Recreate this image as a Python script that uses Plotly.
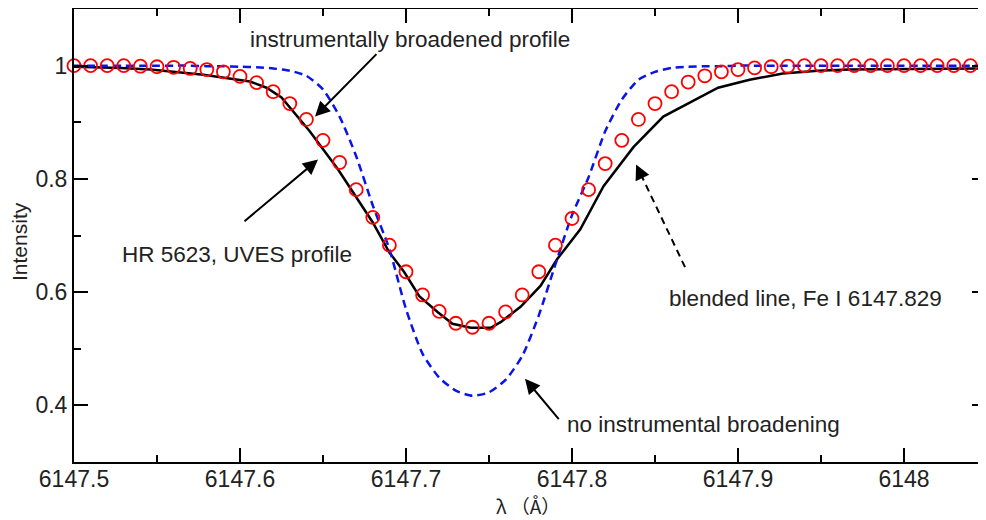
import plotly.graph_objects as go

# ---------------- data ----------------
# model wavelength grid (Angstrom)
wl_model = [6147.50, 6147.51, 6147.52, 6147.53, 6147.54, 6147.55, 6147.56, 6147.57,
            6147.58, 6147.59, 6147.60, 6147.61, 6147.62, 6147.63, 6147.64, 6147.65,
            6147.66, 6147.67, 6147.68, 6147.69, 6147.70, 6147.71, 6147.72, 6147.73,
            6147.74, 6147.75, 6147.76, 6147.77, 6147.78, 6147.79, 6147.80, 6147.81,
            6147.82, 6147.83, 6147.84, 6147.85, 6147.86, 6147.87, 6147.88, 6147.89,
            6147.90, 6147.91, 6147.92, 6147.93, 6147.94, 6147.95, 6147.96, 6147.97,
            6147.98, 6147.99, 6148.00, 6148.01, 6148.02, 6148.03, 6148.04, 6148.05]

# instrumentally broadened profile (red circles)
broadened = [1.000, 1.000, 1.000, 1.000, 0.999, 0.998, 0.997, 0.995,
             0.993, 0.989, 0.981, 0.970, 0.954, 0.933, 0.905, 0.868,
             0.829, 0.781, 0.732, 0.683, 0.636, 0.595, 0.566, 0.545,
             0.538, 0.545, 0.565, 0.595, 0.636, 0.683, 0.730, 0.781,
             0.827, 0.868, 0.905, 0.933, 0.954, 0.971, 0.982, 0.989,
             0.993, 0.996, 0.998, 0.999, 1.000, 1.000, 1.000, 1.000,
             1.000, 1.000, 1.000, 1.000, 1.000, 1.000, 1.000, 1.000]

# no instrumental broadening (blue dashed)
unbroadened = [1.000, 1.000, 1.000, 1.000, 1.000, 1.000, 1.000, 1.000,
               0.999, 0.999, 0.998, 0.997, 0.995, 0.991, 0.982, 0.958,
               0.910, 0.840, 0.753, 0.676, 0.570, 0.491, 0.449, 0.426,
               0.417, 0.423, 0.445, 0.487, 0.559, 0.649, 0.736, 0.803,
               0.884, 0.940, 0.975, 0.989, 0.996, 0.998, 0.999, 0.999,
               1.000, 1.000, 1.000, 1.000, 1.000, 1.000, 1.000, 1.000,
               1.000, 1.000, 1.000, 1.000, 1.000, 1.000, 1.000, 1.000]

# observed HR 5623 UVES profile (black solid)
wl_obs = [6147.500, 6147.528, 6147.546, 6147.578, 6147.606, 6147.616, 6147.625,
          6147.642, 6147.659, 6147.670, 6147.680, 6147.690, 6147.699, 6147.708,
          6147.719, 6147.728, 6147.739, 6147.751, 6147.757, 6147.769, 6147.781,
          6147.791, 6147.805, 6147.819, 6147.837, 6147.855, 6147.888, 6147.907,
          6147.927, 6147.948, 6147.967, 6148.049]
obs = [0.998, 0.996, 0.993, 0.984, 0.972, 0.961, 0.944,
       0.884, 0.817, 0.769, 0.723, 0.670, 0.635, 0.593,
       0.565, 0.544, 0.537, 0.537, 0.547, 0.574, 0.611,
       0.658, 0.711, 0.787, 0.856, 0.910, 0.961, 0.975,
       0.986, 0.991, 0.993, 0.995]

x_tickvals = [6147.5, 6147.6, 6147.7, 6147.8, 6147.9, 6148.0]
x_ticktext = ["6147.5", "6147.6", "6147.7", "6147.8", "6147.9", "6148"]
y_tickvals = [0.4, 0.6, 0.8, 1.0]
y_ticktext = ["0.4", "0.6", "0.8", "1"]

FONT = "Liberation Sans"
TXT = "#222222"
ASZ = 22.5

fig = go.Figure()
fig.add_trace(go.Scatter(x=wl_obs, y=obs, mode="lines",
                         line=dict(color="black", width=2.5), cliponaxis=False,
                         showlegend=False))
fig.add_trace(go.Scatter(x=wl_model, y=unbroadened, mode="lines",
                         line=dict(color="#0a14e6", width=2.5, dash="8px,5px", shape="spline",
                                   smoothing=0.6),
                         showlegend=False))
fig.add_trace(go.Scatter(x=wl_model, y=broadened, mode="markers",
                         marker=dict(symbol="circle-open", size=13, color="#ff0000",
                                     line=dict(width=1.8, color="#ff0000")),
                         cliponaxis=False, showlegend=False))

# ---------------- annotations ----------------
ann = []
def text(x, y, s, anchor="left"):
    ann.append(dict(x=x, y=y, xref="x", yref="y", text=s, showarrow=False,
                    xanchor=anchor, yanchor="middle",
                    font=dict(family=FONT, size=ASZ, color=TXT)))

def arrow(xt, yt, xs, ys):
    ann.append(dict(x=xt, y=yt, ax=xs, ay=ys, xref="x", yref="y", axref="x", ayref="y",
                    text="", showarrow=True, arrowhead=2, arrowsize=1.5, arrowwidth=2,
                    arrowcolor="black", standoff=0))

text(6147.6048, 1.046, "instrumentally broadened profile")
arrow(6147.6452, 0.910, 6147.6831, 1.023)
text(6147.5277, 0.667, "HR 5623, UVES profile")
arrow(6147.647, 0.834, 6147.6018, 0.723)
text(6147.7958, 0.367, "no instrumental broadening")
arrow(6147.7717, 0.447, 6147.7928, 0.373)
text(6147.8572, 0.588, "blended line, Fe I 6147.829")
# dashed arrow: dashed shaft + arrow head
ann.append(dict(x=6147.8386, y=0.8256, ax=7, ay=15, xref="x", yref="y",
                text="", showarrow=True, arrowhead=2, arrowsize=1.5, arrowwidth=2,
                arrowcolor="black", standoff=0))
fig.add_shape(type="line", xref="x", yref="y", x0=6147.8681, y0=0.6441,
              x1=6147.8422, y1=0.8035, line=dict(color="black", width=2, dash="7px,5px"))

# axis titles
ann.append(dict(x=0.498, y=-0.0970, xref="paper", yref="paper", text="λ （Å）",
                showarrow=False, xanchor="center", yanchor="middle",
                font=dict(family="Noto Sans CJK KR", size=19, color=TXT)))
ann.append(dict(x=-0.0592, y=0.4857, xref="paper", yref="paper", text="Intensity",
                showarrow=False, xanchor="center", yanchor="middle", textangle=-90,
                font=dict(family=FONT, size=21, color=TXT)))

# the page body adds an 8px offset, so the figure is sized to fit the window
fig.update_layout(
    width=978, height=512,
    margin=dict(l=66, r=0, t=1, b=58, autoexpand=False),
    paper_bgcolor="white", plot_bgcolor="white",
    annotations=ann,
    font=dict(family=FONT, size=20, color=TXT),
    xaxis=dict(range=[6147.5, 6148.0494], showgrid=False, zeroline=False, automargin=False,
               showline=True, linecolor="black", linewidth=2, mirror="ticks",
               ticks="inside", ticklen=14, tickwidth=2, tickcolor="black",
               tickvals=x_tickvals, ticktext=x_ticktext, ticklabelstandoff=-5,
               minor=dict(dtick=0.05, tick0=6147.5, ticks="inside", ticklen=7,
                          tickwidth=2, tickcolor="black", showgrid=False),
               tickfont=dict(family=FONT, size=23, color=TXT)),
    yaxis=dict(range=[0.3, 1.1], showgrid=False, zeroline=False, automargin=False,
               showline=True, linecolor="black", linewidth=2, mirror="ticks",
               ticks="inside", ticklen=14, tickwidth=2, tickcolor="black",
               tickvals=y_tickvals, ticktext=y_ticktext,
               minor=dict(dtick=0.1, tick0=0.3, ticks="inside", ticklen=7,
                          tickwidth=2, tickcolor="black", showgrid=False),
               tickfont=dict(family=FONT, size=23, color=TXT)),
)

fig.write_html("out.html")
